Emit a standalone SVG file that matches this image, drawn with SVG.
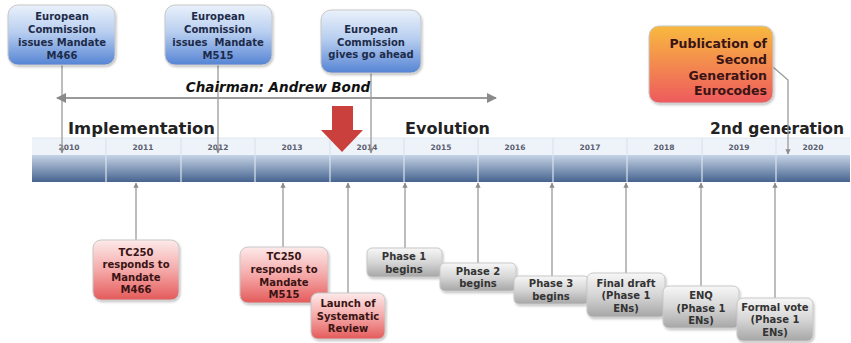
<svg xmlns="http://www.w3.org/2000/svg" width="851" height="343" viewBox="0 0 851 343">
<defs>
<linearGradient id="gBlue" x1="0" y1="0" x2="0" y2="1"><stop offset="0" stop-color="#eaf1fb"/><stop offset="0.45" stop-color="#b9cff0"/><stop offset="1" stop-color="#5584d4"/></linearGradient>
<linearGradient id="gRed" x1="0" y1="0" x2="0" y2="1"><stop offset="0" stop-color="#fdeaea"/><stop offset="0.5" stop-color="#f5a9a9"/><stop offset="1" stop-color="#e45a5a"/></linearGradient>
<linearGradient id="gGray" x1="0" y1="0" x2="0" y2="1"><stop offset="0" stop-color="#f7f7f7"/><stop offset="0.5" stop-color="#d6d6d6"/><stop offset="1" stop-color="#a6a6a6"/></linearGradient>
<linearGradient id="gOrange" x1="0" y1="0" x2="0" y2="1"><stop offset="0" stop-color="#f8b93f"/><stop offset="1" stop-color="#ee5a5e"/></linearGradient>
<linearGradient id="gBar" x1="0" y1="0" x2="0" y2="1"><stop offset="0" stop-color="#c6d3e6"/><stop offset="1" stop-color="#46648f"/></linearGradient>
<filter id="sh" x="-10%" y="-10%" width="130%" height="130%"><feDropShadow dx="1" dy="1.5" stdDeviation="1.2" flood-color="#000" flood-opacity="0.25"/></filter>
<marker id="ah" viewBox="0 0 10 10" refX="9" refY="5" markerWidth="5" markerHeight="5" orient="auto-start-reverse"><path d="M0,0 L10,5 L0,10 z" fill="#8a8a8a"/></marker>
<marker id="ahL" viewBox="0 0 10 10" refX="9" refY="5" markerWidth="4" markerHeight="4" orient="auto-start-reverse"><path d="M0,0 L10,5 L0,10 z" fill="#8a8a8a"/></marker>
</defs>
<style>
text{font-family:"DejaVu Sans","Verdana",sans-serif;font-weight:bold;}
.bt{font-size:10px;fill:#1d2b4a;text-anchor:middle;}
.rt{font-size:10px;fill:#3a1414;text-anchor:middle;}
.gt{font-size:10px;fill:#333;text-anchor:middle;}
.ot{font-size:12.5px;fill:#3a1414;text-anchor:end;}
.sec{font-size:16.5px;fill:#222;}
.yr{font-size:7.5px;fill:#5a6070;text-anchor:middle;}
.conn{stroke:#9a9a9a;stroke-width:1.3;fill:none;}
.box{stroke:#c8c8c8;stroke-width:1;filter:url(#sh);}
</style>
<rect width="851" height="343" fill="#fff"/>

<!-- timeline -->
<g id="timeline">
<rect x="32" y="138" width="818" height="17" fill="#eef3f9"/>
<line x1="32" y1="138" x2="850" y2="138" stroke="#dfe7f1" stroke-width="1"/>
<rect x="32" y="155" width="818" height="27" fill="url(#gBar)"/>
<g stroke="#dbe3ef" stroke-width="1.2">
<line x1="106" y1="138" x2="106" y2="182"/><line x1="181" y1="138" x2="181" y2="182"/><line x1="255" y1="138" x2="255" y2="182"/><line x1="330" y1="138" x2="330" y2="182"/><line x1="404" y1="138" x2="404" y2="182"/><line x1="478" y1="138" x2="478" y2="182"/><line x1="553" y1="138" x2="553" y2="182"/><line x1="627" y1="138" x2="627" y2="182"/><line x1="702" y1="138" x2="702" y2="182"/><line x1="776" y1="138" x2="776" y2="182"/>
</g>
<text class="yr" x="69" y="150">2010</text>
<text class="yr" x="143" y="150">2011</text>
<text class="yr" x="218" y="150">2012</text>
<text class="yr" x="292" y="150">2013</text>
<text class="yr" x="367" y="150">2014</text>
<text class="yr" x="441" y="150">2015</text>
<text class="yr" x="515" y="150">2016</text>
<text class="yr" x="590" y="150">2017</text>
<text class="yr" x="664" y="150">2018</text>
<text class="yr" x="739" y="150">2019</text>
<text class="yr" x="813" y="150">2020</text>
<text class="sec" x="68" y="134" textLength="147" lengthAdjust="spacingAndGlyphs">Implementation</text>
<text class="sec" x="405" y="134" textLength="85" lengthAdjust="spacingAndGlyphs">Evolution</text>
<text class="sec" x="710" y="134" style="font-size:16px" textLength="134" lengthAdjust="spacingAndGlyphs">2nd generation</text>
</g>

<!-- connectors -->
<g id="connectors">
<line class="conn" x1="62" y1="65" x2="62" y2="153" marker-end="url(#ahL)"/>
<line class="conn" x1="218" y1="65" x2="218" y2="153" marker-end="url(#ahL)"/>
<line class="conn" x1="371" y1="73" x2="371" y2="153" marker-end="url(#ahL)"/>
<polyline class="conn" points="773,67 788,80 788,154" marker-end="url(#ahL)"/>
<line x1="57" y1="98" x2="496" y2="98" stroke="#9a9a9a" stroke-width="2" marker-start="url(#ah)" marker-end="url(#ah)"/>
<line class="conn" x1="136" y1="240" x2="136" y2="183" marker-end="url(#ahL)"/>
<line class="conn" x1="283" y1="247" x2="283" y2="183" marker-end="url(#ahL)"/>
<line class="conn" x1="348" y1="293" x2="348" y2="183" marker-end="url(#ahL)"/>
<line class="conn" x1="405" y1="248" x2="405" y2="183" marker-end="url(#ahL)"/>
<line class="conn" x1="478" y1="263" x2="478" y2="183" marker-end="url(#ahL)"/>
<line class="conn" x1="552" y1="276" x2="552" y2="183" marker-end="url(#ahL)"/>
<line class="conn" x1="626" y1="273" x2="626" y2="183" marker-end="url(#ahL)"/>
<line class="conn" x1="701" y1="286" x2="701" y2="183" marker-end="url(#ahL)"/>
<line class="conn" x1="775" y1="298" x2="775" y2="183" marker-end="url(#ahL)"/>
</g>

<text x="278" y="92" style="font-size:13.5px;font-style:italic;fill:#111;text-anchor:middle;">Chairman: Andrew Bond</text>

<g id="red-arrow"><polygon points="332,106 353,106 353,130 363,130 342,152 321,130 332,130" fill="#c9403c"/></g>

<g id="ec-m466"><rect class="box" x="8" y="5" width="107" height="60" rx="10" fill="url(#gBlue)"/>
<text class="bt" x="62" y="20">European</text><text class="bt" x="62" y="33">Commission</text><text class="bt" x="62" y="46">issues Mandate</text><text class="bt" x="62" y="59">M466</text></g>
<g id="ec-m515"><rect class="box" x="165" y="5" width="107" height="60" rx="10" fill="url(#gBlue)"/>
<text class="bt" x="218" y="20">European</text><text class="bt" x="218" y="33">Commission</text><text class="bt" x="218" y="46" xml:space="preserve">issues  Mandate</text><text class="bt" x="218" y="59">M515</text></g>
<g id="ec-go"><rect class="box" x="321" y="10" width="100" height="63" rx="10" fill="url(#gBlue)"/>
<text class="bt" x="371" y="33">European</text><text class="bt" x="371" y="46">Commission</text><text class="bt" x="371" y="58">gives go ahead</text></g>
<g id="publication"><rect class="box" x="649" y="26" width="124" height="77" rx="10" fill="url(#gOrange)" stroke="#b9a080"/>
<text class="ot" x="767" y="48">Publication of</text><text class="ot" x="767" y="64">Second</text><text class="ot" x="767" y="80">Generation</text><text class="ot" x="767" y="95">Eurocodes</text></g>

<g id="tc250-m466"><rect class="box" x="93" y="240" width="86" height="60" rx="8" fill="url(#gRed)"/>
<text class="rt" x="136" y="256">TC250</text><text class="rt" x="136" y="268">responds to</text><text class="rt" x="136" y="281">Mandate</text><text class="rt" x="136" y="293">M466</text></g>
<g id="tc250-m515"><rect class="box" x="240" y="247" width="88" height="56" rx="8" fill="url(#gRed)"/>
<text class="rt" x="284" y="260">TC250</text><text class="rt" x="284" y="273">responds to</text><text class="rt" x="284" y="286">Mandate</text><text class="rt" x="284" y="298">M515</text></g>
<g id="launch"><rect class="box" x="311" y="293" width="74" height="46" rx="7" fill="url(#gRed)"/>
<text class="rt" x="348" y="307">Launch of</text><text class="rt" x="348" y="320">Systematic</text><text class="rt" x="348" y="332">Review</text></g>

<g id="phase1"><rect class="box" x="367" y="248" width="75" height="29" rx="5" fill="url(#gGray)"/>
<text class="gt" x="404" y="260">Phase 1</text><text class="gt" x="404" y="273">begins</text></g>
<g id="phase2"><rect class="box" x="440" y="263" width="76" height="28" rx="5" fill="url(#gGray)"/>
<text class="gt" x="478" y="275">Phase 2</text><text class="gt" x="478" y="287">begins</text></g>
<g id="phase3"><rect class="box" x="514" y="276" width="75" height="28" rx="5" fill="url(#gGray)"/>
<text class="gt" x="551" y="287">Phase 3</text><text class="gt" x="551" y="300">begins</text></g>
<g id="final-draft"><rect class="box" x="587" y="273" width="78" height="44" rx="6" fill="url(#gGray)"/>
<text class="gt" x="626" y="287">Final draft</text><text class="gt" x="626" y="299">(Phase 1</text><text class="gt" x="626" y="312">ENs)</text></g>
<g id="enq"><rect class="box" x="663" y="286" width="76" height="42" rx="6" fill="url(#gGray)"/>
<text class="gt" x="701" y="299">ENQ</text><text class="gt" x="701" y="312">(Phase 1</text><text class="gt" x="701" y="324">ENs)</text></g>
<g id="formal-vote"><rect class="box" x="737" y="298" width="76" height="43" rx="6" fill="url(#gGray)"/>
<text class="gt" x="775" y="311">Formal vote</text><text class="gt" x="775" y="323">(Phase 1</text><text class="gt" x="775" y="336">ENs)</text></g>
</svg>
